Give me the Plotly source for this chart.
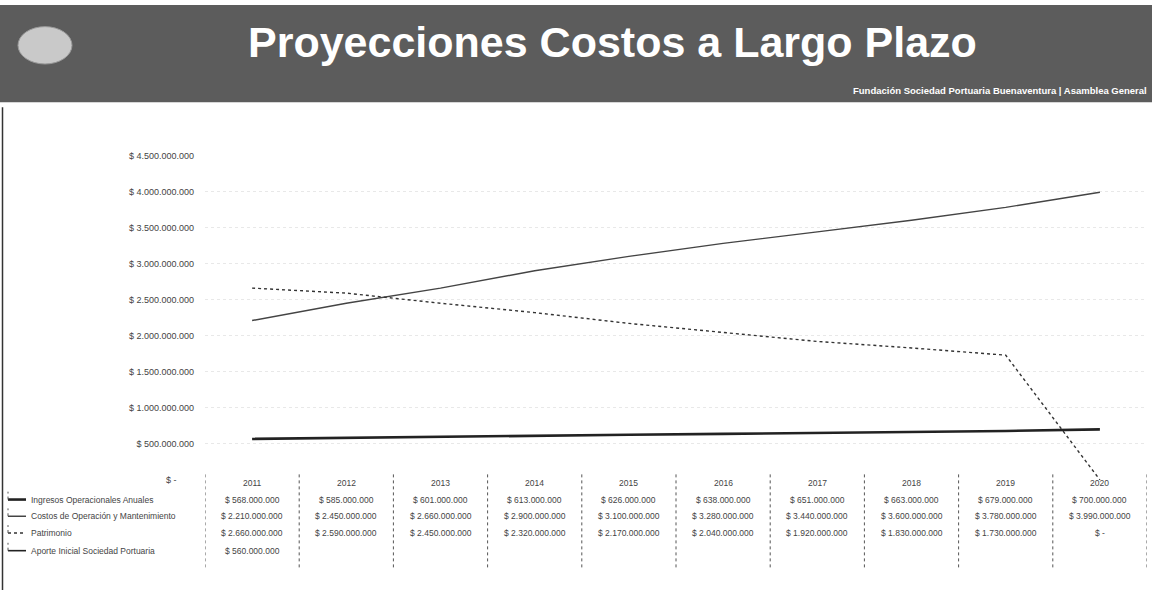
import plotly.graph_objects as go

# ---------------- data (estimates) ----------------
years = [2011, 2012, 2013, 2014, 2015, 2016, 2017, 2018, 2019, 2020]
series_names = [
    "Ingresos Operacionales Anuales",
    "Costos de Operación y Mantenimiento",
    "Patrimonio",
    "Aporte Inicial Sociedad Portuaria",
]
ingresos = [568e6, 585e6, 601e6, 613e6, 626e6, 638e6, 651e6, 663e6, 679e6, 700e6]
costos = [2210e6, 2450e6, 2660e6, 2900e6, 3100e6, 3280e6, 3440e6, 3600e6, 3780e6, 3990e6]
patrimonio = [2660e6, 2590e6, 2450e6, 2320e6, 2170e6, 2040e6, 1920e6, 1830e6, 1730e6, 0]
aporte = [560e6, None, None, None, None, None, None, None, None, None]
y_tick_vals = [0, 500e6, 1000e6, 1500e6, 2000e6, 2500e6, 3000e6, 3500e6, 4000e6, 4500e6]
title_text = "Proyecciones Costos a Largo Plazo"
subtitle_text = "Fundación Sociedad Portuaria Buenaventura | Asamblea General"

W, H = 1152, 595


def px_x(x):
    return x / W


def px_y(y):
    return 1 - y / H


def money(v):
    if v is None:
        return ""
    if v == 0:
        return "$ -"
    return "$ " + f"{int(round(v)):,}".replace(",", ".")


y_tick_text = ["$ -" + "\u00a0" * 7] + [money(v) for v in y_tick_vals[1:]]

all_series = [ingresos, costos, patrimonio, aporte]
styles = [
    dict(color="#222222", width=2.6, dash="solid"),
    dict(color="#444444", width=1.4, dash="solid"),
    dict(color="#333333", width=1.4, dash="dot"),
    dict(color="#222222", width=1.6, dash="solid"),
]

fig = go.Figure()
for name, vals, st in zip(series_names, all_series, styles):
    fig.add_trace(go.Scatter(
        x=years, y=vals, name=name, mode="lines",
        line=st, connectgaps=False, showlegend=False,
    ))

plot_left, plot_right = 205, 1147
plot_top, plot_bottom = 153, 483

fig.update_layout(
    width=W, height=H,
    margin=dict(l=0, r=0, t=0, b=0),
    paper_bgcolor="white", plot_bgcolor="white",
    font=dict(family="Liberation Sans, Arial, sans-serif", color="#333333"),
    xaxis=dict(
        domain=[px_x(plot_left), px_x(plot_right)],
        range=[years[0] - 0.5, years[-1] + 0.5],
        showticklabels=False, showgrid=False, zeroline=False, showline=False,
        ticks="",
    ),
    yaxis=dict(
        domain=[px_y(plot_bottom), px_y(plot_top)],
        range=[0, 4.5e9],
        tickvals=y_tick_vals, ticktext=y_tick_text,
        tickfont=dict(size=9, color="#444444"),
        showgrid=True, gridcolor="#e8e8e8", griddash="dot", gridwidth=1,
        zeroline=False, showline=False, ticks="", ticklabelstandoff=10,
    ),
)

shapes = []
annotations = []

# header banner
shapes.append(dict(type="rect", xref="paper", yref="paper",
                   x0=0, x1=1, y0=px_y(99), y1=1,
                   fillcolor="#5c5c5c", line=dict(width=0), layer="below"))
# logo ellipse
shapes.append(dict(type="circle", xref="paper", yref="paper",
                   x0=px_x(18), x1=px_x(72), y0=px_y(60), y1=px_y(22),
                   fillcolor="#c9c9c9", line=dict(color="#9a9a9a", width=1)))
# left border line
shapes.append(dict(type="line", xref="paper", yref="paper",
                   x0=px_x(2.5), x1=px_x(2.5), y0=px_y(595), y1=px_y(104),
                   line=dict(color="#333333", width=1.5)))

annotations.append(dict(text="<b>" + title_text + "</b>", xref="paper", yref="paper",
                        x=px_x(612), y=px_y(38), xanchor="center", yanchor="middle",
                        showarrow=False, font=dict(size=43, color="white",
                                                   family="Liberation Sans, Arial, sans-serif")))
annotations.append(dict(text="<b>" + subtitle_text + "</b>", xref="paper", yref="paper",
                        x=px_x(1149), y=px_y(87), xanchor="right", yanchor="middle",
                        showarrow=False, font=dict(size=9.5, color="white")))

# data table under the chart
table_top, table_bottom = 477, 572
header_y = 486
row_ys = [503, 520, 537, 555]

# vertical dashed separators between columns
for i in range(len(years) + 1):
    xpos = years[0] - 0.5 + i
    shapes.append(dict(type="line", xref="x", yref="paper",
                       x0=xpos, x1=xpos, y0=px_y(table_bottom), y1=px_y(table_top),
                       line=dict(color="#555555", width=1, dash="dot")))

# year headers
for yr in years:
    annotations.append(dict(text=str(yr), xref="x", yref="paper", x=yr, y=px_y(header_y),
                            xanchor="center", yanchor="middle", showarrow=False,
                            font=dict(size=8.5, color="#444444")))

# row legend keys and names
for r, (name, st) in enumerate(zip(series_names, styles)):
    yy = px_y(row_ys[r])
    shapes.append(dict(type="line", xref="paper", yref="paper",
                       x0=px_x(8), x1=px_x(26), y0=yy, y1=yy,
                       line=dict(color=st["color"], width=max(st["width"], 1.5), dash=st["dash"])))
    shapes.append(dict(type="line", xref="paper", yref="paper",
                       x0=px_x(8), x1=px_x(8), y0=yy, y1=px_y(row_ys[r] - 8),
                       line=dict(color="#555555", width=1, dash="dot")))
    annotations.append(dict(text=name, xref="paper", yref="paper", x=px_x(29), y=yy,
                            xanchor="left", yanchor="middle", showarrow=False,
                            font=dict(size=8.5, color="#444444")))
    vals = all_series[r]
    for yr, v in zip(years, vals):
        if v is None:
            continue
        annotations.append(dict(text=money(v), xref="x", yref="paper", x=yr, y=yy,
                                xanchor="center", yanchor="middle", showarrow=False,
                                font=dict(size=8.5, color="#444444")))

fig.update_layout(shapes=shapes, annotations=annotations)
fig.write_html("out.html", config={"displayModeBar": False},
               post_script="document.body.style.margin='0';document.body.style.overflow='hidden';")
